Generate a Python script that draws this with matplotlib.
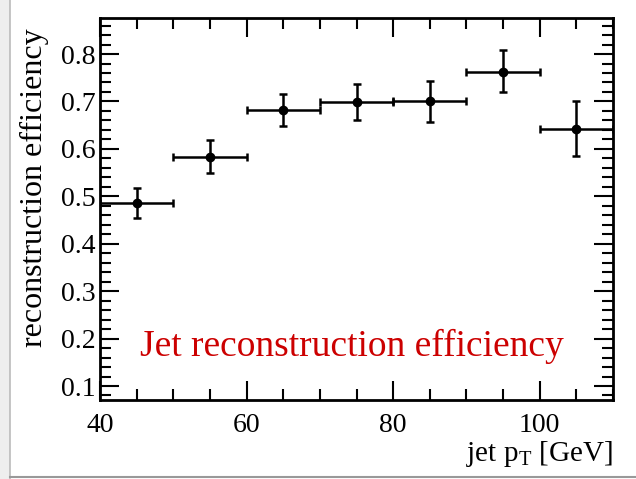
import matplotlib.pyplot as plt
from matplotlib.ticker import MultipleLocator
from matplotlib.patches import Rectangle
from matplotlib.lines import Line2D

plt.rcParams['font.family'] = ['Liberation Serif', 'DejaVu Serif']
plt.rcParams['mathtext.fontset'] = 'custom'
plt.rcParams['mathtext.rm'] = 'Liberation Serif'

# dados
pt_centro = [45, 55, 65, 75, 85, 95, 105]
pt_meia_largura = [5, 5, 5, 5, 5, 5, 5]
eficiencia = [0.486, 0.583, 0.682, 0.698, 0.700, 0.763, 0.642]
erro_baixo = [0.031, 0.033, 0.034, 0.038, 0.043, 0.043, 0.056]
erro_cima = [0.032, 0.035, 0.034, 0.039, 0.044, 0.045, 0.058]

fig = plt.figure(figsize=(6.36, 4.79), dpi=100)
ax = fig.add_axes([100 / 636, 1 - 400 / 479, 513 / 636, 382 / 479])

ax.errorbar(pt_centro, eficiencia, xerr=pt_meia_largura,
            yerr=[erro_baixo, erro_cima], fmt='o', color='black',
            markersize=6, elinewidth=1.8, capsize=3, capthick=1.8,
            clip_on=True)

ax.set_xlim(40, 110)
ax.set_ylim(0.0705, 0.876)
ax.xaxis.set_major_locator(MultipleLocator(20))
ax.xaxis.set_minor_locator(MultipleLocator(5))
ax.yaxis.set_major_locator(MultipleLocator(0.1))
ax.yaxis.set_minor_locator(MultipleLocator(0.02))
ax.tick_params(which='both', direction='in', top=True, right=True,
               labelsize=20, width=1.5)
ax.tick_params(which='major', length=14)
ax.tick_params(which='minor', length=8)
ax.tick_params(axis='x', which='major', pad=9)
ax.tick_params(axis='y', which='major', pad=3)
for s in ax.spines.values():
    s.set_linewidth(2)

ax.set_ylabel('reconstruction efficiency', fontsize=23)
ax.yaxis.set_label_coords(-0.1, 0.555)
ax.set_xlabel(r'jet p$_{\mathrm{T}}$ [GeV]', fontsize=21,
              loc='right', labelpad=1)

ax.text(0.078, 0.139, 'Jet reconstruction efficiency', transform=ax.transAxes,
        color='#cc0000', fontsize=27, ha='left', va='center')

# sombra cinza do slide (esquerda e embaixo)
fig.patches.append(Rectangle((0, 0), 10 / 636, 1, transform=fig.transFigure,
                             facecolor='#eeeeee', edgecolor='none'))
fig.lines.append(Line2D([10 / 636, 10 / 636], [0, 1], transform=fig.transFigure,
                        color='#bbbbbb', linewidth=1.2))
fig.lines.append(Line2D([10 / 636, 1], [2 / 479, 2 / 479],
                        transform=fig.transFigure, color='#999999',
                        linewidth=1.5))

fig.savefig('out.png', dpi=100)
